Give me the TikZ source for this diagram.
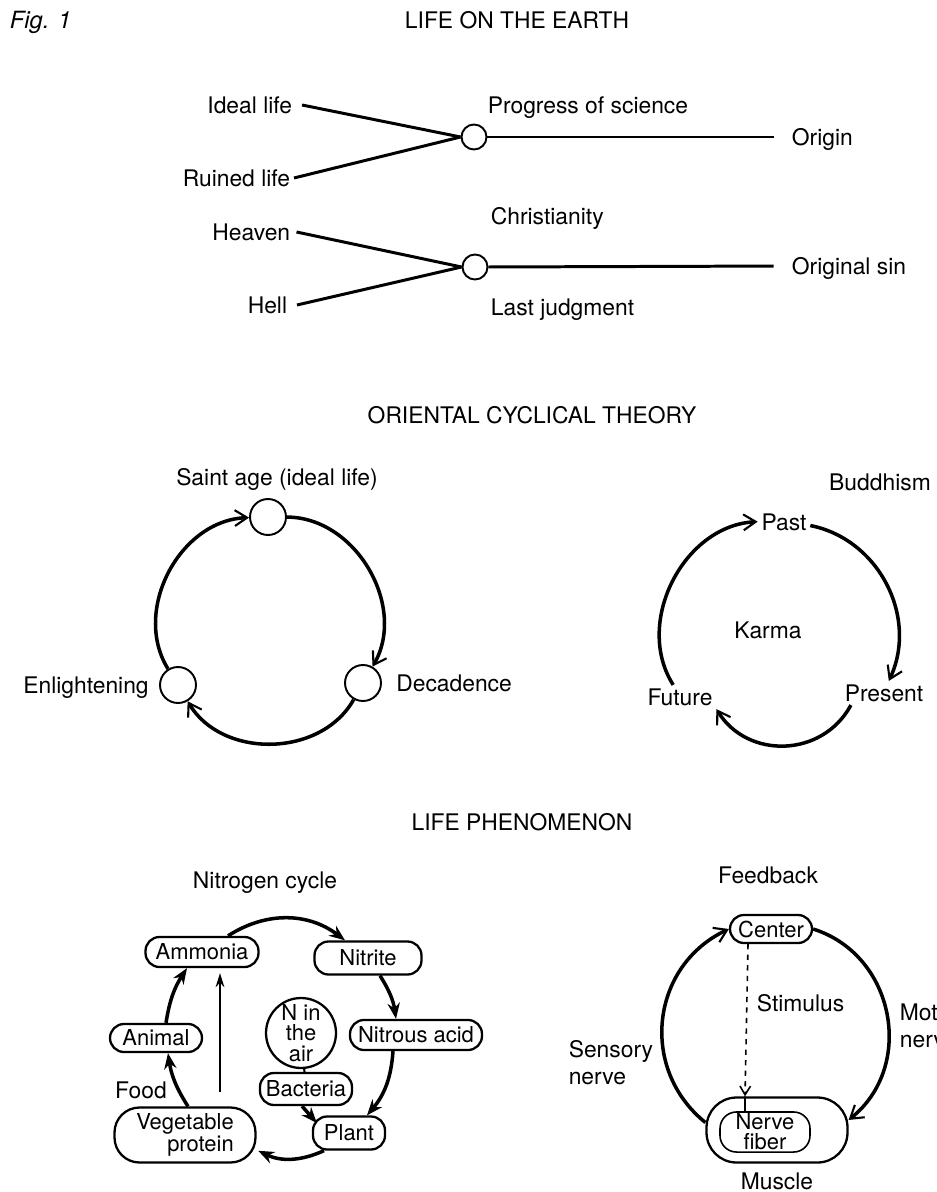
\documentclass[tikz,border=0pt]{standalone}
\usepackage{fontspec}
\setmainfont{TeX Gyre Heros}
\usetikzlibrary{arrows.meta,positioning}
\tikzset{
	lbl/.style={inner sep=2pt,font=\fontsize{13}{15.5}\selectfont,text height=9.4pt,text depth=0pt},
	lines/.style={inner sep=2pt,font=\fontsize{13}{15.5}\selectfont,align=left},
	hub/.style={draw,circle,line width=1.1pt,minimum size=0.5cm,inner sep=0pt},
	stage/.style={draw,circle,line width=1.1pt,minimum size=0.72cm,inner sep=0pt},
	spoke/.style={line width=1.7pt},
	cyc/.style={line width=2pt,-{Straight Barb[length=7pt,width=9pt,line width=1.2pt]}},
	turn/.style={cyc,bend left=60,looseness=1.03},
	pill/.style={draw,rectangle,rounded corners=0.28cm,line width=1.3pt,inner sep=1pt,minimum height=0.6cm,font=\fontsize{12.5}{11.5}\selectfont,align=center},
	flow/.style={line width=2pt,-{Stealth[length=9pt,width=7pt]}},
	thinflow/.style={line width=0.9pt,-{Stealth[length=8pt,width=5pt]}}
}

\begin{document}
\begin{tikzpicture}[x=0.02cm,y=0.02cm]
	\useasboundingbox (0,0) rectangle (936,-1192);
	\clip (0,0) rectangle (936,-1192);

	% life on the earth
	\node[lbl,anchor=west,font=\fontsize{13.5}{15.5}\selectfont\itshape] (fig) at (6,-20) {Fig. 1};
	\node[lbl] (earth) at (517,-20) {LIFE ON THE EARTH};

	\node[lbl,anchor=east] (ideal) at (296,-105) {Ideal life};
	\node[lbl,anchor=east] (ruined) at (294,-178) {Ruined life};
	\node[hub] (sci) at (474,-137) {};
	\node[lbl,anchor=west] (progress) at (484,-105) {Progress of science};
	\node[lbl,anchor=west] (origin) at (788,-137) {Origin};
	\draw[spoke] ([xshift=0.12cm]ideal.east) -- (sci.west);
	\draw[spoke] (ruined.east) -- (sci.west);
	\draw[spoke,shorten >=0.29cm] (sci.east) -- (origin.west);

	\node[lbl,anchor=west] (christ) at (487,-216) {Christianity};
	\node[lbl,anchor=east] (heaven) at (294,-232) {Heaven};
	\node[lbl,anchor=east] (hell) at (291,-305) {Hell};
	\node[hub] (judg) at (475,-267) {};
	\node[lbl,anchor=west] (last) at (487,-307) {Last judgment};
	\node[lbl,anchor=west] (sin) at (788,-266) {Original sin};
	\draw[spoke] ([xshift=0.05cm]heaven.east) -- (judg.west);
	\draw[spoke] ([xshift=0.12cm]hell.east) -- (judg.west);
	\draw[spoke,shorten >=0.29cm] (judg.east) -- (sin.west);

	% oriental cyclical theory
	\node[lbl] (oriental) at (532,-415) {ORIENTAL CYCLICAL THEORY};
	\node[stage] (saint) at (268,-517) {};
	\node[stage] (enl) at (178,-685) {};
	\node[stage] (dec) at (363,-683) {};
	\node[lbl] (saintl) at (277,-477) {Saint age (ideal life)};
	\node[lbl,left=0.13cm of enl] (enll) {Enlightening};
	\node[lbl,right=0.21cm of dec] (decl) {Decadence};
	\draw[turn] (enl) to (saint);
	\draw[turn] (saint) to (dec);
	\draw[turn] (dec) to (enl);

	\node[lbl] (buddhism) at (880,-482) {Buddhism};
	\node[lbl] (past) at (784,-522) {Past};
	\node[lbl] (present) at (884,-693) {Present};
	\node[lbl] (future) at (680,-697) {Future};
	\node[lbl] (karma) at (768,-630) {Karma};
	\draw[turn] (future) to (past);
	\draw[turn,bend left=52] (past) to (present);
	\draw[turn,looseness=1.13] ([xshift=0.2cm]present.south west) to (future.south east);

	% life phenomenon
	\node[lbl] (phen) at (522,-822) {LIFE PHENOMENON};
	\node[lbl] (nitro) at (265,-880) {Nitrogen cycle};

	\node[pill,minimum width=2.26cm] (ammonia) at (202,-952) {Ammonia};
	\node[pill,minimum width=2.14cm,minimum height=0.66cm] (nitrite) at (368,-958) {Nitrite};
	\node[pill,minimum width=2.64cm] (nacid) at (416,-1035) {Nitrous acid};
	\node[pill,minimum width=1.84cm,minimum height=0.56cm] (animal) at (156,-1038) {Animal};
	\node[draw,circle,line width=1.3pt,minimum size=1.4cm,inner sep=0pt,align=center,font=\fontsize{12.5}{11.5}\selectfont] (air) at (301,-1033) {N in\\the\\air};
	\node[pill,minimum width=1.84cm,minimum height=0.64cm] (bacteria) at (306,-1089) {Bacteria};
	\node[pill,minimum width=1.44cm,minimum height=0.66cm] (plant) at (349,-1133) {Plant};
	\node[pill,minimum width=2.82cm,minimum height=1.1cm,rounded corners=0.5cm,align=right] (vegp) at (185,-1135) {Vegetable\\protein};
	\node[lbl] (food) at (141,-1090) {Food};
	\coordinate (decay) at (220,-1092);

	\draw[flow] ([xshift=0.52cm]ammonia.north) to[bend left=35] ([xshift=-0.46cm]nitrite.north);
	\draw[flow] ([xshift=0.24cm]nitrite.south) to[bend left=12] ([xshift=-0.4cm]nacid.north);
	\draw[flow] ([xshift=-0.46cm]nacid.south) to[bend left=18] ([xshift=0.36cm]plant.north);
	\draw[flow,shorten >=1pt] ([xshift=-0.5cm]plant.south) to[bend left=25] ([yshift=-0.3cm]vegp.east);
	\draw[flow] ([xshift=0.06cm]vegp.north) to[bend left=12] ([xshift=0.24cm]animal.south);
	\draw[flow] ([xshift=0.2cm]animal.north) to[bend left=12] ([xshift=-0.3cm]ammonia.south);
	\draw[thinflow,shorten >=0.1cm] (decay) -- (decay |- ammonia.south);
	\draw[line width=1.2pt] (air) -- (bacteria);
	\draw[flow] ([xshift=-0.08cm]bacteria.south) -- ([xshift=0.1cm,yshift=0.2cm]plant.west);

	\node[lbl] (feedback) at (768,-875) {Feedback};
	\node[pill,minimum width=1.64cm,minimum height=0.56cm] (center) at (771,-929) {Center};
	\node[draw,rectangle,rounded corners=0.6cm,line width=1.3pt,minimum width=2.82cm,minimum height=1.3cm] (muscle) at (777,-1130) {};
	\node[pill,line width=0.9pt,minimum width=1.8cm,minimum height=0.7cm,rounded corners=0.33cm] (nerve) at (765,-1132) {Nerve\\fiber};
	\node[lbl,below=0.11cm of muscle] (musclel) {Muscle};
	\node[lbl,anchor=west] (stim) at (753,-1003) {Stimulus};
	\node[lines,anchor=east] (sensory) at (657,-1063) {Sensory\\nerve};
	\node[lines,anchor=west] (motor) at (896,-1026) {Motor\\nerve};

	\draw[dashed,line width=0.9pt,-{Straight Barb[length=5pt,width=6pt]}] ([xshift=-0.46cm]center.south) -- ([xshift=-0.64cm]muscle.north);
	\draw[line width=0.9pt] ([xshift=-0.64cm]muscle.north) -- ([xshift=-0.4cm]nerve.north);
	\draw[turn,bend left=58,looseness=1.13] (muscle.174) to (center.west);
	\draw[turn,bend left=62,looseness=1.13] (center.east) to (muscle.8);
\end{tikzpicture}
\end{document}
